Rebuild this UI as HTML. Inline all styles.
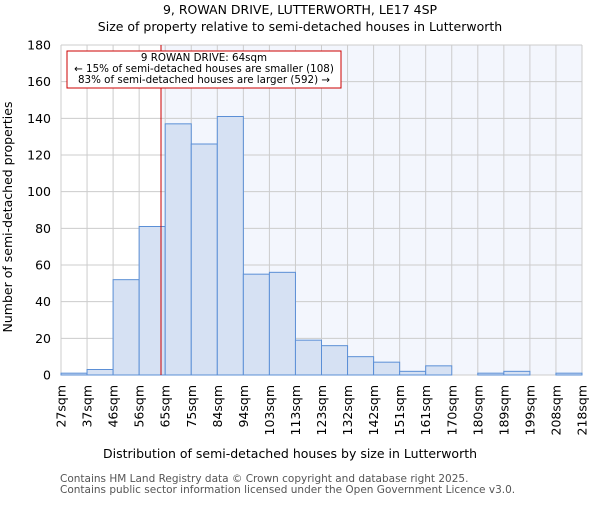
<!DOCTYPE html><html><head><style>body{margin:0;background:#fff}svg{font-family:"DejaVu Sans","Liberation Sans",sans-serif}</style></head><body>
<svg width="600" height="500" viewBox="0 0 600 500">
<rect x="161" y="45" width="421" height="330" fill="#f3f6fd"/>
<g id="grid" stroke="#cccccc" stroke-width="1"></g>
<g id="bars"></g>
<line x1="161" y1="45" x2="161" y2="375" stroke="#cc0000" stroke-width="1"/>
<rect x="67" y="51" width="274" height="37" fill="#fff" stroke="#cc0000" stroke-width="1"/>
<g font-size="10.3" text-anchor="middle" fill="#000">
<text x="204" y="61">9 ROWAN DRIVE: 64sqm</text>
<text x="204" y="72">← 15% of semi-detached houses are smaller (108)</text>
<text x="204" y="83">83% of semi-detached houses are larger (592) →</text>
</g>
<g font-size="12.5" text-anchor="middle"><text x="300" y="14">9, ROWAN DRIVE, LUTTERWORTH, LE17 4SP</text><text x="300" y="31">Size of property relative to semi-detached houses in Lutterworth</text></g>
<text x="290" y="458" font-size="12.5" text-anchor="middle">Distribution of semi-detached houses by size in Lutterworth</text>
<text transform="translate(12,217) rotate(-90)" font-size="12.5" text-anchor="middle">Number of semi-detached properties</text>
<g font-size="10.5" fill="#555"><text x="60" y="482">Contains HM Land Registry data © Crown copyright and database right 2025.</text><text x="60" y="493">Contains public sector information licensed under the Open Government Licence v3.0.</text></g>
<g id="yt" font-size="12.5" text-anchor="end"></g>
<g id="xt" font-size="12.5"></g>
</svg>
<script>
var ns="http://www.w3.org/2000/svg",L=61,W=26.05,B=375,S=330/180;
function el(t,a,p,tx){var e=document.createElementNS(ns,t);for(var k in a)e.setAttribute(k,a[k]);if(tx!==undefined)e.textContent=String(tx);document.getElementById(p).appendChild(e);}
var v=[1,3,52,81,137,126,141,55,56,19,16,10,7,2,5,0,1,2,0,1];
var lab=[27,37,46,56,65,75,84,94,103,113,123,132,142,151,161,170,180,189,199,208,218];
for(var i=0;i<=20;i++){var x=L+i*W;el("line",{x1:x,y1:45,x2:x,y2:375},"grid");
el("text",{transform:"translate("+(x+4.5)+",385) rotate(-90)","text-anchor":"end"},"xt",lab[i]+"sqm");}
for(var j=0;j<=180;j+=20){var y=B-j*S;el("line",{x1:L,y1:y,x2:582,y2:y},"grid");el("text",{x:51,y:y+4.5},"yt",j);}
v.forEach(function(c,i){if(c>0)el("rect",{x:L+i*W,y:B-c*S,width:W,height:c*S,fill:"#d6e1f3",stroke:"#5b8fd6","stroke-width":1},"bars");});
</script>
</body></html>
